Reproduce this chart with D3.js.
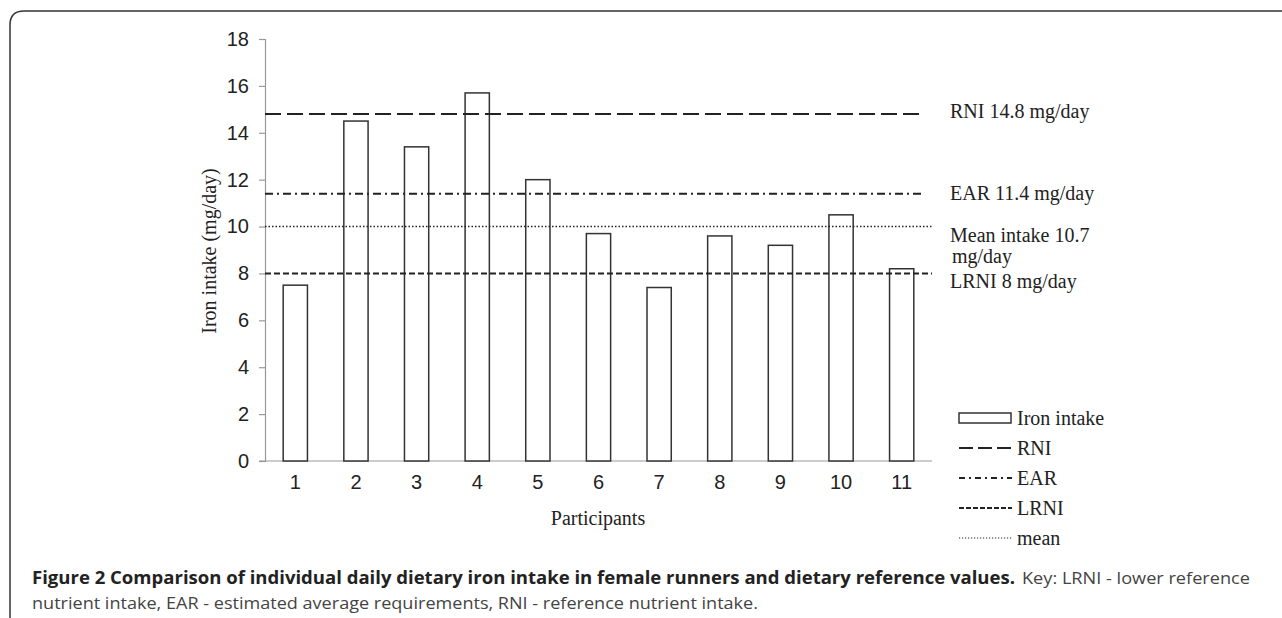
<!DOCTYPE html>
<html>
<head>
<meta charset="utf-8">
<script src="https://cdn.jsdelivr.net/npm/d3@7"></script>
<style>
  body { margin: 0; background: #fff; }
  svg { display: block; }
</style>
</head>
<body>
<script>
const participants = ['1', '2', '3', '4', '5', '6', '7', '8', '9', '10', '11']
const ironIntake = [7.5, 14.5, 13.4, 15.7, 12.0, 9.7, 7.4, 9.6, 9.2, 10.5, 8.2]
const yTicks = [0, 2, 4, 6, 8, 10, 12, 14, 16, 18]

const refNames = ['RNI', 'EAR', 'mean', 'LRNI']
const refValues = [14.8, 11.4, 10, 8]
const refLabels = [
  ['RNI 14.8 mg/day'],
  ['EAR 11.4 mg/day'],
  ['Mean intake 10.7', 'mg/day'],
  ['LRNI 8 mg/day']
]
const legendNames = ['Iron intake', 'RNI', 'EAR', 'LRNI', 'mean']

const width = 1282
const height = 618
const serif = '"Liberation Serif", "Times New Roman", serif'
const sans = '"Liberation Sans", Arial, sans-serif'

// line styles per reference line
const dashes = {
  RNI: { dash: '16,6', w: 2, end: 925 },
  EAR: { dash: '8,4,2,4', w: 2, end: 925 },
  mean: { dash: '1.5,2', w: 1.5, end: 932 },
  LRNI: { dash: '6,3', w: 2, end: 932 }
}
const legendDash = {
  RNI: '14,5',
  EAR: '6,4,2,4',
  LRNI: '5,2',
  mean: '1.2,1.8'
}

let svg = d3.select('body')
  .append('svg')
  .attr('width', width)
  .attr('height', height)

// frame round the figure
svg.append('path')
  .attr('d', 'M10,618 L10,25 Q10,11 24,11 L1290,11')
  .attr('fill', 'none')
  .attr('stroke', '#333')
  .attr('stroke-width', 1.5)

let x = d3.scaleBand()
  .domain(participants)
  .range([265, 932])
  .paddingInner(0.6)
  .paddingOuter(0.3)

let y = d3.scaleLinear()
  .domain([0, 18])
  .range([461, 39])

// y axis
let yAxis = svg.append('g')
  .attr('transform', 'translate(265,0)')
  .call(d3.axisLeft(y).tickValues(yTicks).tickSize(6).tickPadding(10))
yAxis.select('.domain').attr('stroke', '#999').attr('stroke-width', 1.2)
yAxis.selectAll('.tick line').attr('stroke', '#999').attr('stroke-width', 1.2)
yAxis.selectAll('.tick text')
  .style('font-family', sans)
  .style('font-size', '20px')
  .attr('fill', '#222')

// x axis
let xAxis = svg.append('g')
  .attr('transform', 'translate(0,461)')
  .call(d3.axisBottom(x).tickSize(0).tickPadding(14))
xAxis.select('.domain').remove()
xAxis.selectAll('.tick text')
  .style('font-family', sans)
  .style('font-size', '20px')
  .attr('fill', '#222')
svg.append('line')
  .attr('x1', 259).attr('x2', 932)
  .attr('y1', y(0)).attr('y2', y(0))
  .attr('stroke', '#999')
  .attr('stroke-width', 1.2)

// bars
svg.selectAll('rect.bar')
  .data(ironIntake)
  .enter()
  .append('rect')
  .attr('class', 'bar')
  .attr('x', (d, i) => x(participants[i]))
  .attr('y', d => y(d))
  .attr('width', x.bandwidth())
  .attr('height', d => y(0) - y(d))
  .attr('fill', '#fff')
  .attr('stroke', '#333')
  .attr('stroke-width', 1.5)

// reference lines
svg.selectAll('line.ref')
  .data(refValues)
  .enter()
  .append('line')
  .attr('class', 'ref')
  .attr('x1', 265)
  .attr('x2', (d, i) => dashes[refNames[i]].end)
  .attr('y1', d => y(d))
  .attr('y2', d => y(d))
  .attr('stroke', '#222')
  .attr('stroke-width', (d, i) => dashes[refNames[i]].w)
  .attr('stroke-dasharray', (d, i) => dashes[refNames[i]].dash)

// labels next to the lines
const labelShift = [4, 6, 15, 15]
refLabels.forEach(function (lines, i) {
  let t = svg.append('text')
    .attr('x', 950)
    .attr('y', y(refValues[i]) + labelShift[i])
    .style('font-family', serif)
    .style('font-size', '20px')
    .attr('fill', '#222')
  lines.forEach(function (s, j) {
    t.append('tspan')
      .attr('x', j === 0 ? 950 : 952)
      .attr('dy', j === 0 ? 0 : 21)
      .text(s)
  })
})

// axis titles
svg.append('text')
  .attr('transform', 'translate(216,251) rotate(-90)')
  .attr('text-anchor', 'middle')
  .style('font-family', serif)
  .style('font-size', '20px')
  .attr('fill', '#222')
  .text('Iron intake (mg/day)')

svg.append('text')
  .attr('x', 598)
  .attr('y', 525)
  .attr('text-anchor', 'middle')
  .style('font-family', serif)
  .style('font-size', '20px')
  .attr('fill', '#222')
  .text('Participants')

// legend
let legend = svg.append('g')
let legendY = d3.scalePoint()
  .domain(legendNames)
  .range([418, 538])

legend.append('rect')
  .attr('x', 959)
  .attr('y', legendY('Iron intake') - 5)
  .attr('width', 52)
  .attr('height', 10)
  .attr('fill', '#fff')
  .attr('stroke', '#333')
  .attr('stroke-width', 1.5)

legend.selectAll('line')
  .data(legendNames.slice(1))
  .enter()
  .append('line')
  .attr('x1', 959)
  .attr('x2', 1012)
  .attr('y1', d => legendY(d))
  .attr('y2', d => legendY(d))
  .attr('stroke', '#222')
  .attr('stroke-width', d => d === 'mean' ? 1.2 : 1.8)
  .attr('stroke-dasharray', d => legendDash[d])

legend.selectAll('text')
  .data(legendNames)
  .enter()
  .append('text')
  .attr('x', 1017)
  .attr('y', d => legendY(d) + 7)
  .style('font-family', serif)
  .style('font-size', '20px')
  .attr('fill', '#222')
  .text(d => d)

// caption
const capFont = '"Open Sans", "Noto Sans", sans-serif'
let cap1 = svg.append('text')
  .attr('y', 584)
  .style('font-family', capFont)
  .style('font-size', '17px')
cap1.append('tspan')
  .attr('x', 32)
  .attr('font-weight', 'bold')
  .attr('fill', '#222')
  .attr('textLength', 983)
  .attr('lengthAdjust', 'spacingAndGlyphs')
  .text('Figure 2 Comparison of individual daily dietary iron intake in female runners and dietary reference values.')
cap1.append('tspan')
  .attr('x', 1022)
  .attr('fill', '#444')
  .attr('textLength', 228)
  .attr('lengthAdjust', 'spacingAndGlyphs')
  .text('Key: LRNI - lower reference')

svg.append('text')
  .attr('x', 32)
  .attr('y', 609)
  .style('font-family', capFont)
  .style('font-size', '17px')
  .attr('fill', '#444')
  .attr('textLength', 726)
  .attr('lengthAdjust', 'spacingAndGlyphs')
  .text('nutrient intake, EAR - estimated average requirements, RNI - reference nutrient intake.')
</script>
</body>
</html>
